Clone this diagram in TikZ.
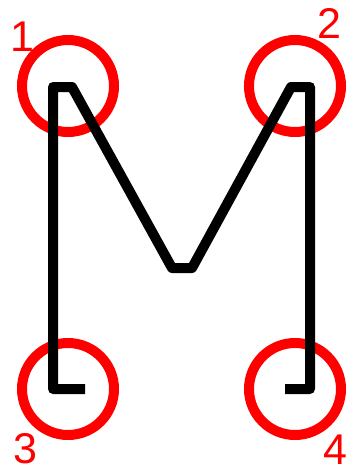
\documentclass[tikz,border=0pt]{standalone}
\usepackage{fontspec}
\setmainfont{Liberation Sans}
\usetikzlibrary{positioning}

\begin{document}
\begin{tikzpicture}[
    x=1pt, y=-1pt,
    marker/.style={circle, draw=red, line width=10pt, minimum size=92pt, inner sep=0pt},
    number/.style={text=red, font=\fontsize{43}{43}\selectfont, inner sep=0pt},
    stroke/.style={draw=black, line width=10pt, line join=round}
]
\useasboundingbox (0,0) rectangle (363,474);

% Corner markers
\node[marker] (m1) at (68,86) {};
\node[marker] (m2) at (295,86) {};
\node[marker] (m3) at (68,389) {};
\node[marker] (m4) at (295,389) {};

% Numbers
\node[number] (n1) at (22,37) {1};
\node[number] (n2) at (329,23) {2};
\node[number] (n3) at (25,449) {3};
\node[number] (n4) at (335,450) {4};

% Points of the letter
\coordinate (startL) at (85,389);
\coordinate (baseL) at (53,389);
\coordinate (topL) at (53,87);
\coordinate (peakL) at (72,87);
\coordinate (valleyL) at (172,268);
\coordinate (valleyR) at (192,268);
\coordinate (peakR) at (291,87);
\coordinate (topR) at (310,87);
\coordinate (baseR) at (310,389);
\coordinate (endR) at (285,389);

% The M
\draw[stroke] (startL) -- (baseL) -- (topL) -- (peakL) -- (valleyL) -- (valleyR)
    -- (peakR) -- (topR) -- (baseR) -- (endR);

\end{tikzpicture}
\end{document}
